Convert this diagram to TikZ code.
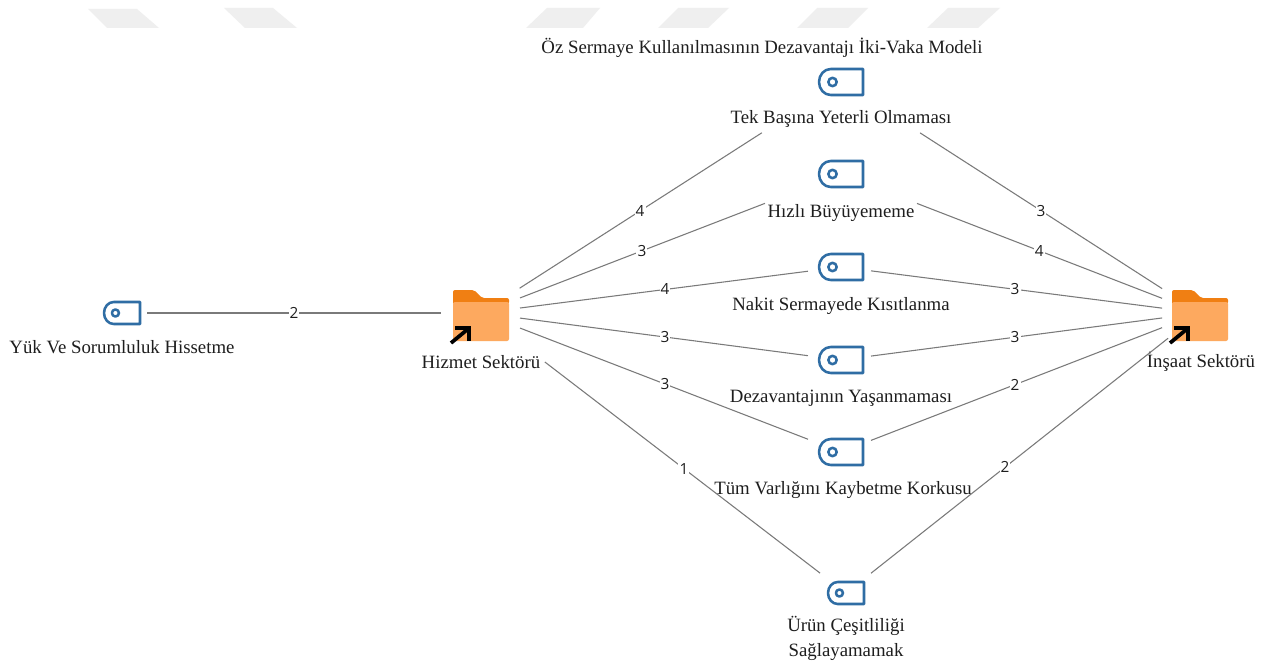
\documentclass[tikz,border=0pt]{standalone}
\usepackage{fontspec}
\setmainfont{Liberation Serif}
\newfontfamily\numfont{Open Sans}
\definecolor{iconblue}{HTML}{2F6DA4}
\definecolor{folderbody}{HTML}{FDA95F}
\definecolor{foldertab}{HTML}{F07F13}
\definecolor{linkgray}{HTML}{7A7A7A}
\definecolor{wm}{HTML}{EFEFEF}
\definecolor{txt}{HTML}{1E1E1E}
\tikzset{
  lbl/.style={inner sep=0pt,text=txt,font=\fontsize{14.1pt}{18.8pt}\selectfont,align=center},
  link/.style={draw=linkgray,line width=0.8pt},
  wgt/.style={fill=white,inner sep=0.8pt,text=txt,font=\numfont\fontsize{11.5pt}{12pt}\selectfont},
  iconbox/.style={inner sep=0pt,outer sep=0pt,draw=none},
  iconline/.style={draw=iconblue,line width=1.9pt,line join=round},
  hubbox/.style={inner sep=0pt,outer sep=0pt,draw=none,minimum size=1pt},
  watermark/.style={fill=wm,draw=none}
}
% name, x, y, width(pt), height(pt)
\newcommand{\tagicon}[5]{%
  \node[iconbox,minimum width=#4pt,minimum height=#5pt] (#1) at (#2,#3) {};
  \pgfmathsetmacro{\tagr}{#5/2-1}
  \draw[iconline] (#1.north east) -- (#1.south east) -- ([xshift=\tagr pt]#1.south west)
     arc (270:90:\tagr pt and #5/2 pt) -- cycle;
  \draw[iconline] ([xshift=#5*0.52 pt]#1.west) circle (#5*0.16 pt);
}
% name, x, y(hub)
\newcommand{\folder}[3]{%
  \node[hubbox] (#1) at (#2,#3) {};
  \begin{scope}[shift={(#2-481,#3-313)}]
    \fill[foldertab,rounded corners=1.5pt] (453,302) -- (453,290) -- (474,290) -- (482,298) -- (509,298) -- (509,304) -- (453,304) -- cycle;
    \fill[folderbody,rounded corners=1.5pt] (453,302) -- (509,302) -- (509,341) -- (453,341) -- cycle;
    \draw[black,line width=2.8pt] (451,343) -- (468,329);
    \draw[black,line width=2.8pt] (455,328) -- (469,328) -- (469,341);
  \end{scope}
}
\begin{document}
\begin{tikzpicture}[x=0.75pt,y=-0.75pt]
\useasboundingbox (0,0) rectangle (1282,663);
\fill[white] (0,0) rectangle (1282,663);
% watermark
\fill[watermark] (88,9) -- (137,9) -- (159,28) -- (107,28) -- cycle;
\fill[watermark] (224,8) -- (273,8) -- (297,28) -- (245,28) -- cycle;
\fill[watermark] (547,8) -- (600,8) -- (583,28) -- (526,28) -- cycle;
\fill[watermark] (678,8) -- (729,8) -- (708,28) -- (658,28) -- cycle;
\fill[watermark] (817,8) -- (868,8) -- (848,28) -- (797,28) -- cycle;
\fill[watermark] (948,8) -- (1000,8) -- (978,28) -- (927,28) -- cycle;
% hubs and icons
\folder{hiz}{481}{313}
\folder{ins}{1200}{313}
\tagicon{yuk}{122}{313}{27}{16.5}
\tagicon{tek}{841}{82}{33}{19.5}
\tagicon{hbu}{841}{174}{33}{19.5}
\tagicon{nak}{841}{267}{33}{19.5}
\tagicon{dez}{841}{360}{33}{19.5}
\tagicon{tum}{841}{452}{33}{19.5}
\tagicon{uru}{846}{593}{27}{16.5}
% labels
\node[lbl] (tyuk) at (122,347) {Yük Ve Sorumluluk Hissetme};
\node[lbl] (thiz) at (481,362) {Hizmet Sektörü};
\node[lbl] (tins) at (1201,362) {İnşaat Sektörü};
\node[lbl] (ttitle) at (762,48) {Öz Sermaye Kullanılmasının Dezavantajı İki-Vaka Modeli};
\node[lbl] (ttek) at (841,119) {Tek Başına Yeterli Olmaması};
\node[lbl] (thbu) at (841,213) {Hızlı Büyüyememe};
\node[lbl] (tnak) at (841,306) {Nakit Sermayede Kısıtlanma};
\node[lbl] (tdez) at (841,398) {Dezavantajının Yaşanmaması};
\node[lbl] (ttum) at (843,490) {Tüm Varlığını Kaybetme Korkusu};
\node[lbl] (turu) at (846,638) {Ürün Çeşitliliği\\Sağlayamamak};
% connectors: lengths in pt are px*0.75
\draw[link,shorten <=18.8pt,shorten >=30pt] (yuk.center) -- node[wgt,pos=.479] {2} (hiz.center);
\draw[link,shorten <=34.4pt,shorten >=70.5pt] (hiz.center) -- node[wgt,pos=.442] {4} (tek.center);
\draw[link,shorten <=31.4pt,shorten >=61.1pt] (hiz.center) -- node[wgt,pos=.447] {3} (hbu.center);
\draw[link,shorten <=29.5pt,shorten >=25pt] (hiz.center) -- node[wgt,pos=.511] {4} (nak.center);
\draw[link,shorten <=29.5pt,shorten >=25pt] (hiz.center) -- node[wgt,pos=.511] {3} (dez.center);
\draw[link,shorten <=31.4pt,shorten >=26.5pt] (hiz.center) -- node[wgt,pos=.511] {3} (tum.center);
\draw[link,shorten <=60.4pt,shorten >=24.5pt] (hiz.center) -- node[wgt,pos=.556] {1} (uru.center);
\draw[link,shorten <=33.8pt,shorten >=70.5pt] (ins.center) -- node[wgt,pos=.443] {3} (tek.center);
\draw[link,shorten <=30.5pt,shorten >=61.1pt] (ins.center) -- node[wgt,pos=.448] {4} (hbu.center);
\draw[link,shorten <=28.7pt,shorten >=22.7pt] (ins.center) -- node[wgt,pos=.515] {3} (nak.center);
\draw[link,shorten <=28.7pt,shorten >=22.7pt] (ins.center) -- node[wgt,pos=.515] {3} (dez.center);
\draw[link,shorten <=30.5pt,shorten >=24.1pt] (ins.center) -- node[wgt,pos=.515] {2} (tum.center);
\draw[link,shorten <=30.5pt,shorten >=23.9pt] (ins.center) -- node[wgt,pos=.551] {2} (uru.center);
\end{tikzpicture}
\end{document}
